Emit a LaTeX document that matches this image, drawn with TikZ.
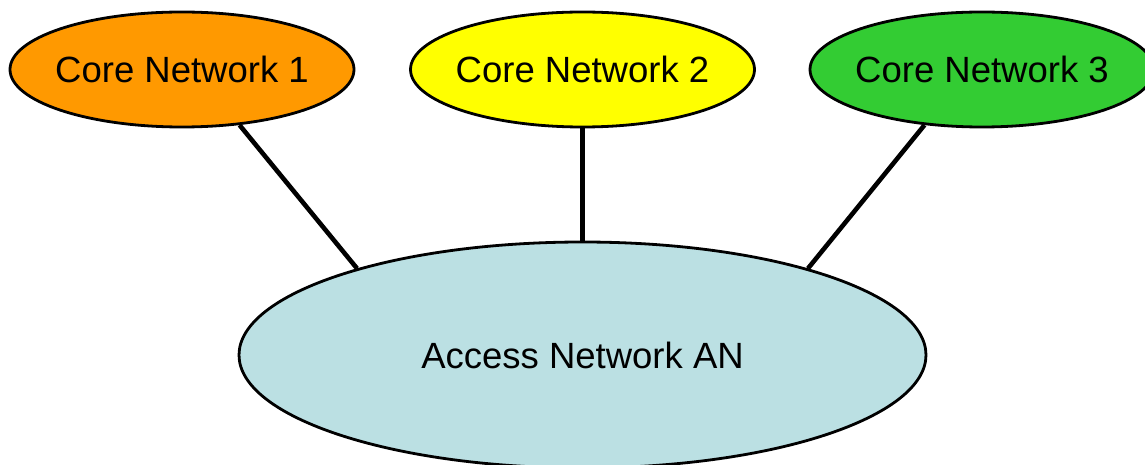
\documentclass[tikz,border=0pt]{standalone}
\usepackage{fontspec}
\setmainfont{Liberation Sans}
\usetikzlibrary{shapes.geometric}
\definecolor{coreorange}{HTML}{FF9900}
\definecolor{coreyellow}{HTML}{FFFF00}
\definecolor{coregreen}{HTML}{33CC33}
\definecolor{accessblue}{HTML}{BBE0E3}
\begin{document}
\begin{tikzpicture}[x=1pt,y=-1pt,
  core/.style={ellipse,draw=black,line width=2.8pt,minimum width=344pt,minimum height=115pt,inner xsep=-40pt,inner ysep=0pt,font=\fontsize{36.5}{40}\selectfont},
  access/.style={ellipse,draw=black,line width=2.8pt,minimum width=687pt,minimum height=226pt,inner sep=0pt,fill=accessblue,font=\fontsize{36.5}{40}\selectfont},
  link/.style={line width=4.6pt,draw=black}]
\clip (0,0) rectangle (1145,465);
\fill[white] (0,0) rectangle (1145,465);
\node[core,fill=coreorange] (c1) at (182,69.5) {Core Network 1};
\node[core,fill=coreyellow] (c2) at (582.5,69.5) {Core Network 2};
\node[core,fill=coregreen] (c3) at (982,69.5) {Core Network 3};
\node[access] (an) at (582.5,355) {Access Network AN};
\draw[link] (c1.-44) -- (an.159);
\draw[link] (c2.south) -- (an.north);
\draw[link] (c3.-136) -- (an.21);
\end{tikzpicture}
\end{document}
